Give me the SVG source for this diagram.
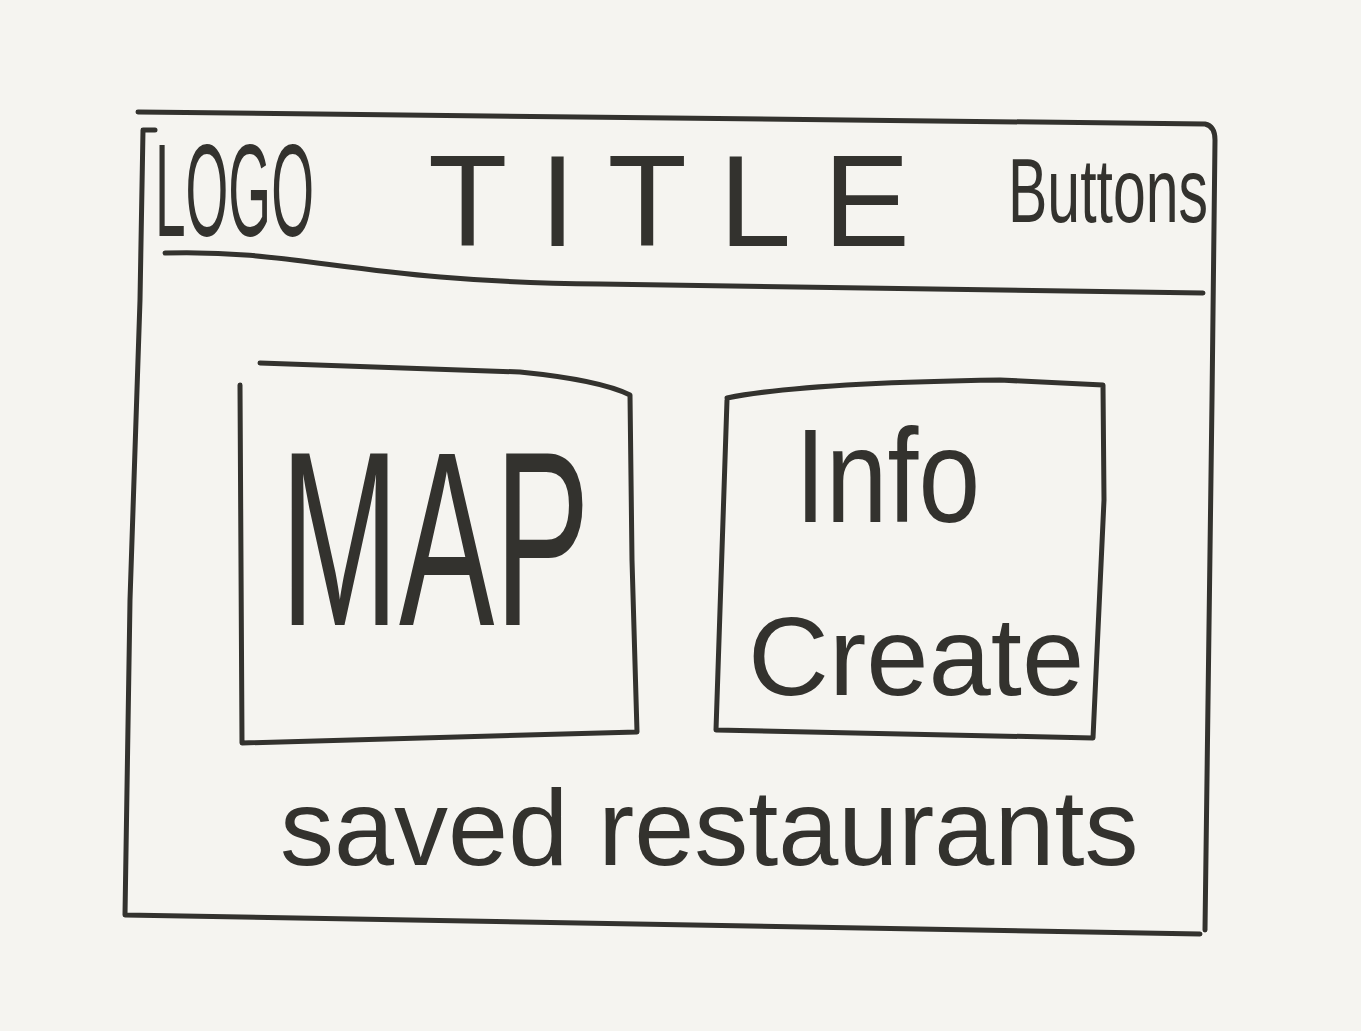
<svg xmlns="http://www.w3.org/2000/svg" width="1361" height="1031" viewBox="0 0 1361 1031">
  <style>
    .ink { fill: none; stroke: #33322e; stroke-width: 5; stroke-linecap: round; stroke-linejoin: round; }
    .hand { font-family: "Liberation Sans", "DejaVu Sans", sans-serif; fill: #33322e; font-weight: normal; }
  </style>
  <rect width="1361" height="1031" fill="#f5f4f0"/>

  <!-- page frame -->
  <g id="frame">
    <path class="ink" d="M138,112 L1205,124 Q1215,126 1215,140 L1212,400 L1205,930"/>
    <path class="ink" d="M155,130 L143,130 L140,300 L130,600 L125,915 L1200,934"/>
  </g>

  <!-- header strip -->
  <g id="header">
    <path class="ink" d="M165,253 C300,249 360,282 600,284 L1203,293"/>
    <text class="hand" font-size="55" transform="translate(155,236) scale(1,2.4)">LOGO</text>
    <text class="hand" x="428" y="246" font-size="130" letter-spacing="32">TITLE</text>
    <text class="hand" font-size="59" transform="translate(1008,222) scale(1,1.55)">Buttons</text>
  </g>

  <!-- map panel -->
  <g id="map">
    <path class="ink" d="M260,363 L520,372 Q600,380 630,395 L632,560 L637,732 L242,743 L240,385"/>
    <text class="hand" font-size="143" transform="translate(280,625) scale(1,1.74)">MAP</text>
  </g>

  <!-- info / create panel -->
  <g id="info">
    <path class="ink" d="M727,398 Q800,383 1000,380 L1103,385 L1104,500 L1093,738 L716,730 L727,400"/>
    <text class="hand" font-size="111" transform="translate(795,522) scale(1,1.2)">Info</text>
    <text class="hand" x="748" y="695" font-size="112">Create</text>
  </g>

  <!-- saved list label -->
  <g id="saved">
    <text class="hand" x="280" y="865" font-size="108">saved restaurants</text>
  </g>
</svg>
